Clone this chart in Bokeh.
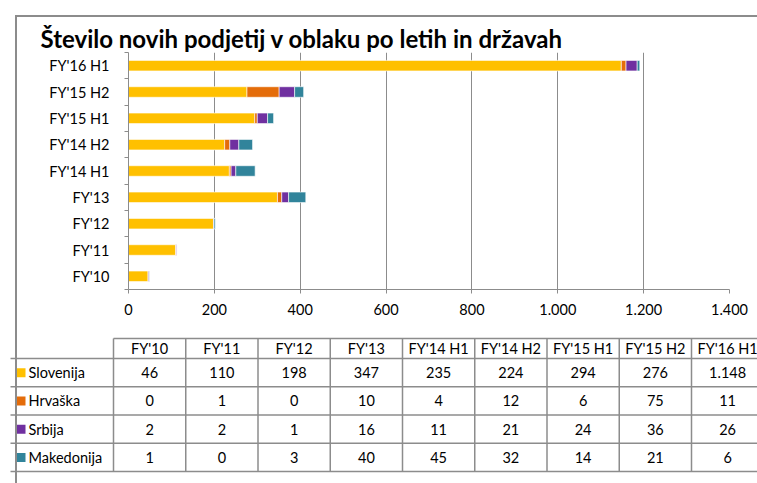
from bokeh.plotting import figure
from bokeh.models import Range1d, FixedTicker, ColumnDataSource, Div
from bokeh.embed import file_html
from bokeh.resources import INLINE
from bokeh.core.properties import value

# ---------------- data ----------------
periods = ["FY'10", "FY'11", "FY'12", "FY'13", "FY'14 H1", "FY'14 H2",
           "FY'15 H1", "FY'15 H2", "FY'16 H1"]
countries = ["Slovenija", "Hrvaška", "Srbija", "Makedonija"]
slovenija = [46, 110, 198, 347, 235, 224, 294, 276, 1148]
hrvaska = [0, 1, 0, 10, 4, 12, 6, 75, 11]
srbija = [2, 2, 1, 16, 11, 21, 24, 36, 26]
makedonija = [1, 0, 3, 40, 45, 32, 14, 21, 6]
colors = ["#FFC000", "#E46C0A", "#7030A0", "#31849B"]
x_ticks = [0, 200, 400, 600, 800, 1000, 1200, 1400]
title_text = "Število novih podjetij v oblaku po letih in državah"

series = [slovenija, hrvaska, srbija, makedonija]


def fmt(v):
    return f"{v:,}".replace(",", ".")


FONT = "Lato"
GRAY = "#8c8c8c"
W = 757
H1 = 330
H2 = 153

# ---------------- bar chart ----------------
p = figure(width=W, height=H1, output_backend="svg", toolbar_location=None,
           x_range=Range1d(0, 1400), y_range=Range1d(-0.5, len(periods) - 0.5),
           min_border_left=128, min_border_right=28, min_border_top=52,
           min_border_bottom=41)

src = ColumnDataSource(dict(y=list(range(len(periods))),
                            **{c: s for c, s in zip(countries, series)}))
p.hbar_stack(countries, y="y", height=0.4, color=colors, source=src,
             line_color="white", line_width=0.6)

p.xaxis.ticker = FixedTicker(ticks=x_ticks)
p.xaxis.major_label_overrides = {t: fmt(t) for t in x_ticks}
p.yaxis.ticker = FixedTicker(ticks=list(range(len(periods))),
                             minor_ticks=[i - 0.5 for i in range(len(periods) + 1)])
p.yaxis.major_label_overrides = {i: s for i, s in enumerate(periods)}

for ax in (p.xaxis[0], p.yaxis[0]):
    ax.axis_line_color = GRAY
    ax.major_tick_line_color = GRAY
    ax.minor_tick_line_color = GRAY
    ax.major_label_text_font = FONT
    ax.major_label_text_font_size = "14.5px"
    ax.major_label_text_color = "black"
    ax.major_tick_in = 0
    ax.minor_tick_in = 0

p.xaxis.major_tick_out = 4
p.xaxis.minor_tick_out = 0
p.xaxis.major_label_standoff = 10
p.yaxis.major_tick_out = 0
p.yaxis.minor_tick_out = 4
p.yaxis.major_label_standoff = 15

p.xgrid.ticker = FixedTicker(ticks=x_ticks)
p.xgrid.grid_line_color = GRAY
p.ygrid.visible = False
p.outline_line_color = None

p.title.text = title_text
p.title.align = "left"
p.title.offset = -88
p.title.standoff = 0
p.title.text_font = FONT
p.title.text_font_style = "bold"
p.title.text_font_size = "24px"
p.title.text_color = "black"

# ---------------- data table ----------------
q = figure(width=W, height=H2, output_backend="svg", toolbar_location=None,
           x_range=Range1d(0, W), y_range=Range1d(H2, 0),
           x_axis_location=None, y_axis_location=None, min_border=0)
q.grid.visible = False
q.outline_line_color = None

col0 = 113.0
colw = 72.25
head_top = 8.0
head_bot = 28.0
rowh = 28.25
n = len(periods)
rows_bot = [head_bot + rowh * (k + 1) for k in range(len(countries))]
col_x = [col0 + colw * i for i in range(n + 1)]

q.segment(x0=[col0], y0=[head_top], x1=[W + 10], y1=[head_top], line_color=GRAY, line_width=1.5)
hy = [head_bot] + rows_bot
q.segment(x0=[10] * len(hy), y0=hy, x1=[W + 10] * len(hy), y1=hy, line_color=GRAY, line_width=1.5)
q.segment(x0=col_x, y0=[head_top] * len(col_x), x1=col_x, y1=[rows_bot[-1]] * len(col_x),
          line_color=GRAY, line_width=1.5)

centers = [col0 + colw * (i + 0.5) for i in range(n)]
q.text(x=centers, y=[(head_top + head_bot) / 2] * n, text=periods,
       text_font=value(FONT), text_font_size=value("14.5px"), text_align="center",
       text_baseline="middle", text_color="black")

row_c = [head_bot + rowh * (k + 0.5) for k in range(len(countries))]
for k, (name, s, c) in enumerate(zip(countries, series, colors)):
    q.text(x=centers, y=[row_c[k]] * n, text=[fmt(v) for v in s],
           text_font=value(FONT), text_font_size=value("14.5px"), text_align="center",
           text_baseline="middle", text_color="black")
    q.rect(x=[20.5], y=[row_c[k]], width=9, height=9, fill_color=c, line_color=None)
    q.text(x=[28], y=[row_c[k]], text=[name], text_font=value(FONT),
           text_font_size=value("14.5px"), text_align="left", text_baseline="middle",
           text_color="black")

# outer chart-area border (left and top edges; the rest lies outside the window)
frame_border = Div(text="", width=744, height=470,
                   styles={"position": "absolute", "left": "10px", "top": "10px",
                           "border-left": f"2px solid {GRAY}",
                           "border-top": f"2px solid {GRAY}",
                           "pointer-events": "none"})

open("out.html", "w").write(file_html([p, q, frame_border], INLINE))
